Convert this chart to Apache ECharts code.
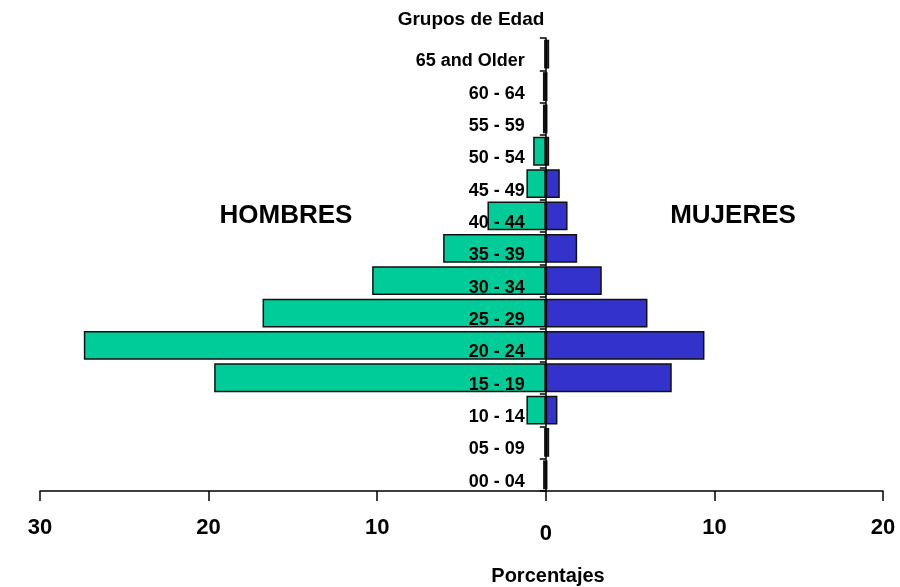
<!DOCTYPE html>
<html>
<head>
<meta charset="utf-8">
<script src="https://cdn.jsdelivr.net/npm/echarts@6/dist/echarts.min.js"></script>
<style>html,body{margin:0;padding:0;background:#fff}#c{width:900px;height:587px}</style>
</head>
<body>
<div id="c"></div>
<script>
const categories = ['00 - 04','05 - 09','10 - 14','15 - 19','20 - 24','25 - 29','30 - 34','35 - 39','40 - 44','45 - 49','50 - 54','55 - 59','60 - 64','65 and Older'];
const hombres = [0.16, 0.1, 1.15, 19.67, 27.4, 16.8, 10.3, 6.09, 3.46, 1.15, 0.75, 0.17, 0.17, 0.1];
const mujeres = [0.1, 0.2, 0.69, 7.47, 9.41, 6.03, 3.32, 1.86, 1.29, 0.83, 0.2, 0.1, 0.1, 0.2];
const xTicks = [-30, -20, -10, 0, 10, 20];

const font = 'Liberation Sans, Arial, sans-serif';
const gridLeft = 40, gridRight = 17;
const chart = echarts.init(document.getElementById('c'), null, {renderer: 'canvas'});
const plotW = 900 - gridLeft - gridRight;
const zeroOffset = -plotW * (0 - xTicks[0]) / (xTicks[xTicks.length-1] - xTicks[0]);
chart.setOption({
  animation: false,
  backgroundColor: '#fff',
  title: [
    {text: 'Grupos de Edad', left: 466, top: 5, textAlign: 'center',
     textStyle: {fontFamily: font, fontSize: 19, fontWeight: 'bold', color: '#000'}},
    {text: 'HOMBRES', left: 281, top: 198, textAlign: 'center',
     textStyle: {fontFamily: font, fontSize: 26, fontWeight: 'bold', color: '#000'}},
    {text: 'MUJERES', left: 728, top: 198, textAlign: 'center',
     textStyle: {fontFamily: font, fontSize: 26, fontWeight: 'bold', color: '#000'}},
    {text: 'Porcentajes', left: 543, top: 561, textAlign: 'center',
     textStyle: {fontFamily: font, fontSize: 20, fontWeight: 'bold', color: '#000'}}
  ],
  grid: {left: gridLeft, right: gridRight, top: 38, bottom: 96, containLabel: false, outerBoundsMode: 'none'},
  xAxis: {
    type: 'value', min: xTicks[0], max: xTicks[xTicks.length-1], interval: 10,
    splitLine: {show: false},
    axisLine: {show: true, onZero: false, lineStyle: {color: '#000', width: 1.5}},
    axisTick: {show: true, length: 10, lineStyle: {color: '#000', width: 1.5}},
    axisLabel: {
      margin: 26, fontFamily: font, fontSize: 22, fontWeight: 'bold', color: '#000',
      formatter: v => v === 0 ? '{z|0}' : String(Math.abs(v)),
      rich: {z: {fontFamily: font, fontSize: 22, fontWeight: 'bold', color: '#000', padding: [6, 0, 0, 0]}}
    }
  },
  yAxis: {
    type: 'category', data: categories, z: 10, position: 'left', offset: zeroOffset,
    axisLine: {show: true, onZero: false, lineStyle: {color: '#000', width: 1.5}},
    axisTick: {show: true, length: 6, lineStyle: {color: '#000', width: 1.5}},
    axisLabel: {margin: 21, fontFamily: font, fontSize: 18, fontWeight: 'bold', color: '#000',
                formatter: v => '{a|' + v + '}',
                rich: {a: {fontFamily: font, fontSize: 18, fontWeight: 'bold', color: '#000', padding: [14, 0, 0, 0]}}}
  },
  series: [
    {name: 'HOMBRES', type: 'bar', data: hombres.map(v => -v), barGap: '-100%', barCategoryGap: '11%',
     itemStyle: {color: '#00CC99', borderColor: '#111', borderWidth: 1.5}},
    {name: 'MUJERES', type: 'bar', data: mujeres, barGap: '-100%', barCategoryGap: '11%',
     itemStyle: {color: '#3333CC', borderColor: '#111', borderWidth: 1.5}}
  ]
});
</script>
</body>
</html>
